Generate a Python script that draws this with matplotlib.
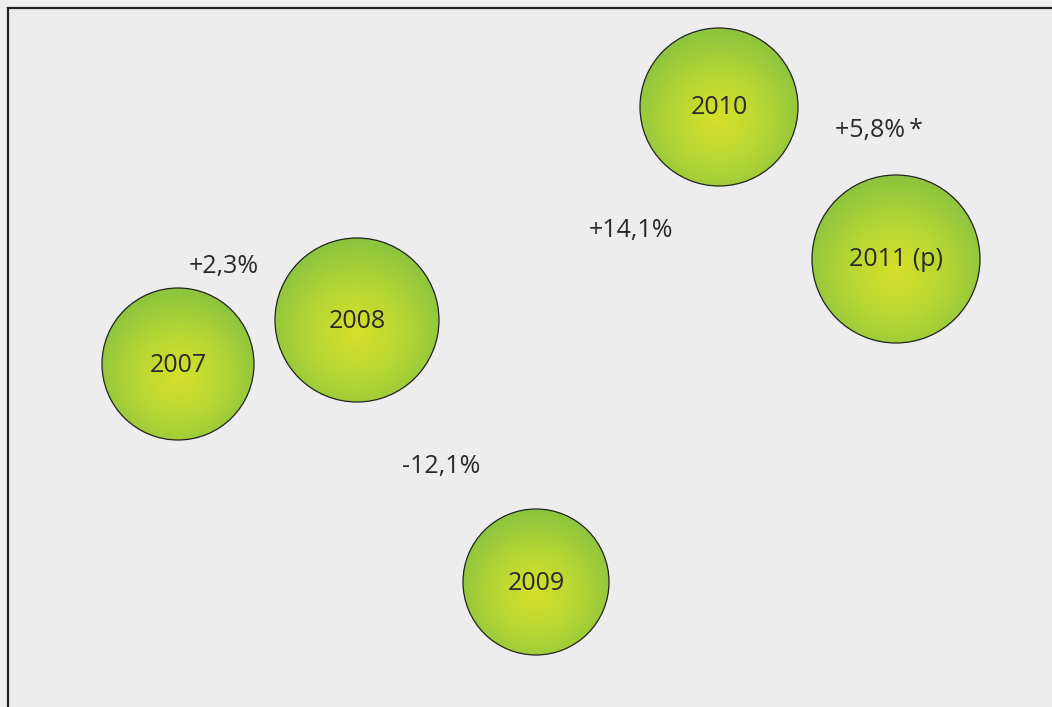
import numpy as np
import matplotlib
matplotlib.use("Agg")
import matplotlib.pyplot as plt
from matplotlib.patches import Circle
from matplotlib.colors import LinearSegmentedColormap

plt.rcParams['font.family'] = ['Open Sans', 'DejaVu Sans']

# Data
years = ["2007", "2008", "2009", "2010", "2011 (p)"]
x_pos = [170, 349, 528, 711, 888]
y_val = [356, 312, 574, 99, 251]
radius = [76, 82, 73, 79, 84]
growth_labels = ["+2,3%", "-12,1%", "+14,1%", "+5,8%\u2009*"]
growth_x = [216, 433, 623, 871]
growth_y = [258, 459, 223, 122]

W, H = 1052, 707
fig = plt.figure(figsize=(W / 100, H / 100), dpi=100, facecolor="#eeeeee")
left = 8 / W
top = 8 / H
ax = fig.add_axes([left, 0, 1 - left, 1 - top])
ax.set_facecolor("#ededed")
ax.set_xlim(0, W - 8)
ax.set_ylim(H - 8, 0)
ax.set_aspect("equal", adjustable="box")
ax.set_xticks([])
ax.set_yticks([])
for s in ["right", "bottom"]:
    ax.spines[s].set_visible(False)
for s in ["left", "top"]:
    ax.spines[s].set_linewidth(1.6)
    ax.spines[s].set_color("#222222")

cmap = LinearSegmentedColormap.from_list("g", ["#d6e02a", "#b8d734", "#8ec53e"])
n = 240
yy, xx = np.mgrid[-1:1:n * 1j, -1:1:n * 1j]
rr = np.sqrt(xx ** 2 + (yy - 0.15) ** 2)

for lab, x, y, r in zip(years, x_pos, y_val, radius):
    im = ax.imshow(rr, cmap=cmap, vmin=0, vmax=1.1, extent=[x - r, x + r, y + r, y - r],
                   interpolation="bilinear", zorder=2)
    clip = Circle((x, y), r, transform=ax.transData, facecolor="none", edgecolor="none")
    ax.add_patch(clip)
    im.set_clip_path(clip)
    ax.add_patch(Circle((x, y), r, facecolor="none", edgecolor="#222222", lw=0.9, zorder=3))
    ax.text(x, y + 1, lab, ha="center", va="center", fontsize=18, color="#2a2a2a", zorder=4)

for lab, x, y in zip(growth_labels, growth_x, growth_y):
    ax.text(x, y, lab, ha="center", va="center", fontsize=18, color="#2a2a2a")

ax.set_xlim(0, W - 8)
ax.set_ylim(H - 8, 0)
fig.savefig("out.png", dpi=100, facecolor=fig.get_facecolor())
